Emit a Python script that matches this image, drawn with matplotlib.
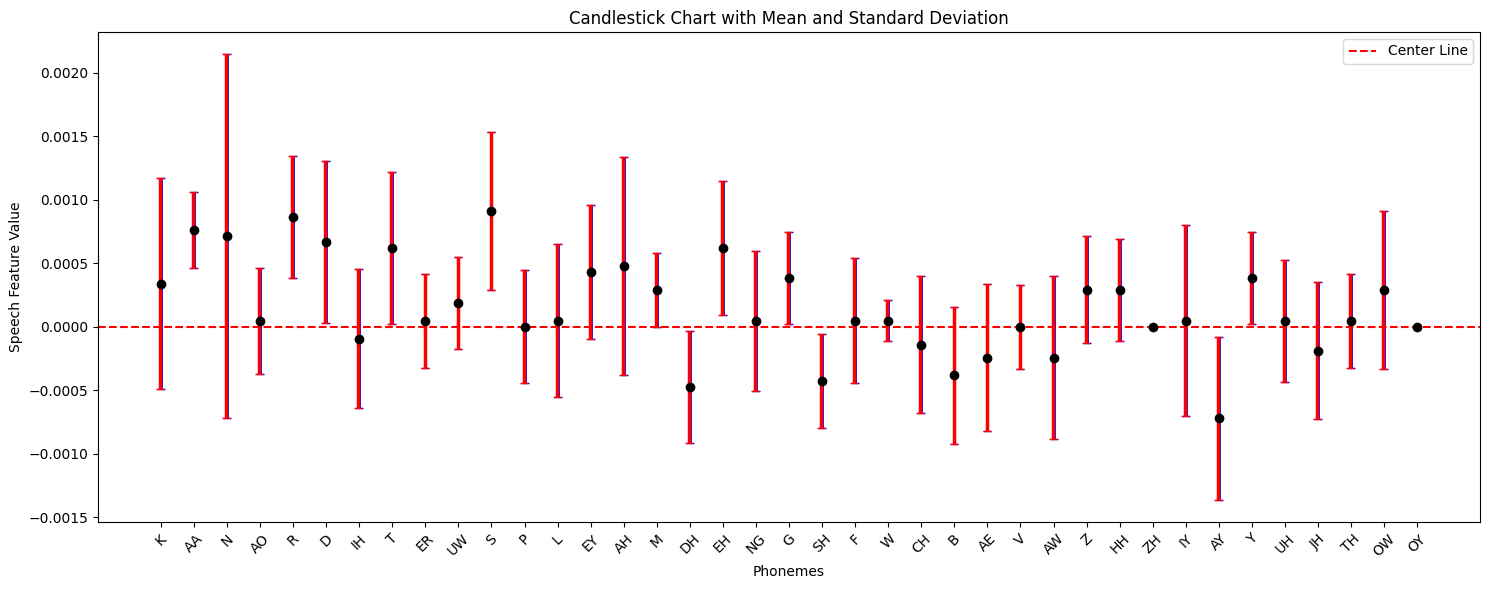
import matplotlib
matplotlib.use('Agg')
import matplotlib.pyplot as plt
import matplotlib.transforms as mtransforms
import numpy as np

# phonemes and their stats
phonemes = ['K', 'AA', 'N', 'AO', 'R', 'D', 'IH', 'T', 'ER', 'UW', 'S', 'P', 'L', 'EY',
            'AH', 'M', 'DH', 'EH', 'NG', 'G', 'SH', 'F', 'W', 'CH', 'B', 'AE', 'V', 'AW',
            'Z', 'HH', 'ZH', 'IY', 'AY', 'Y', 'UH', 'JH', 'TH', 'OW', 'OY']
means = [0.000337, 0.000761, 0.000714, 0.000047, 0.000863, 0.000667, -0.000094, 0.00062,
         0.000047, 0.000188, 0.00091, 0.0, 0.000047, 0.000431, 0.000478, 0.00029,
         -0.000478, 0.00062, 0.000047, 0.000384, -0.000431, 0.000047, 0.000047, -0.000141,
         -0.000384, -0.000243, 0.0, -0.000243, 0.00029, 0.00029, 0.0, 0.000047,
         -0.000722, 0.000384, 0.000047, -0.000188, 0.000047, 0.00029, 0.0]
stds = [0.00083, 0.0003, 0.00143, 0.000416, 0.00048, 0.00064, 0.00055, 0.0006,
        0.00037, 0.00036, 0.00062, 0.000447, 0.0006, 0.00053, 0.00086, 0.00029,
        0.00044, 0.00053, 0.00055, 0.00036, 0.00037, 0.00049, 0.00016, 0.00054,
        0.00054, 0.00058, 0.00033, 0.00064, 0.00042, 0.0004, 0.0, 0.00075,
        0.00064, 0.00036, 0.00048, 0.00054, 0.00037, 0.00062, 0.0]

x = np.arange(len(phonemes))
means = np.array(means)
stds = np.array(stds)

fig, ax = plt.subplots(figsize=(14.9, 5.9), dpi=100)

# blue candle body underneath, red error bar on top (slightly shifted)
ax.errorbar(x, means, yerr=stds, fmt='none', ecolor='blue', elinewidth=2, capsize=3)
shift = mtransforms.offset_copy(ax.transData, fig=fig, x=-0.8, y=0, units='dots')
ax.errorbar(x, means, yerr=stds, fmt='none', ecolor='red', elinewidth=2.5, capsize=3,
            transform=shift)
ax.plot(x, means, 'o', color='black', markersize=6, zorder=5)

ax.axhline(0, color='red', linestyle='--', linewidth=1.5, label='Center Line')

ax.set_xticks(x)
ax.set_xticklabels(phonemes, rotation=45)
ax.set_xlabel('Phonemes')
ax.set_ylabel('Speech Feature Value')
ax.set_title('Candlestick Chart with Mean and Standard Deviation')
ax.legend(loc='upper right')

plt.subplots_adjust(left=0.0658, right=0.9933, top=0.9458, bottom=0.1153)
plt.savefig('out.png')
